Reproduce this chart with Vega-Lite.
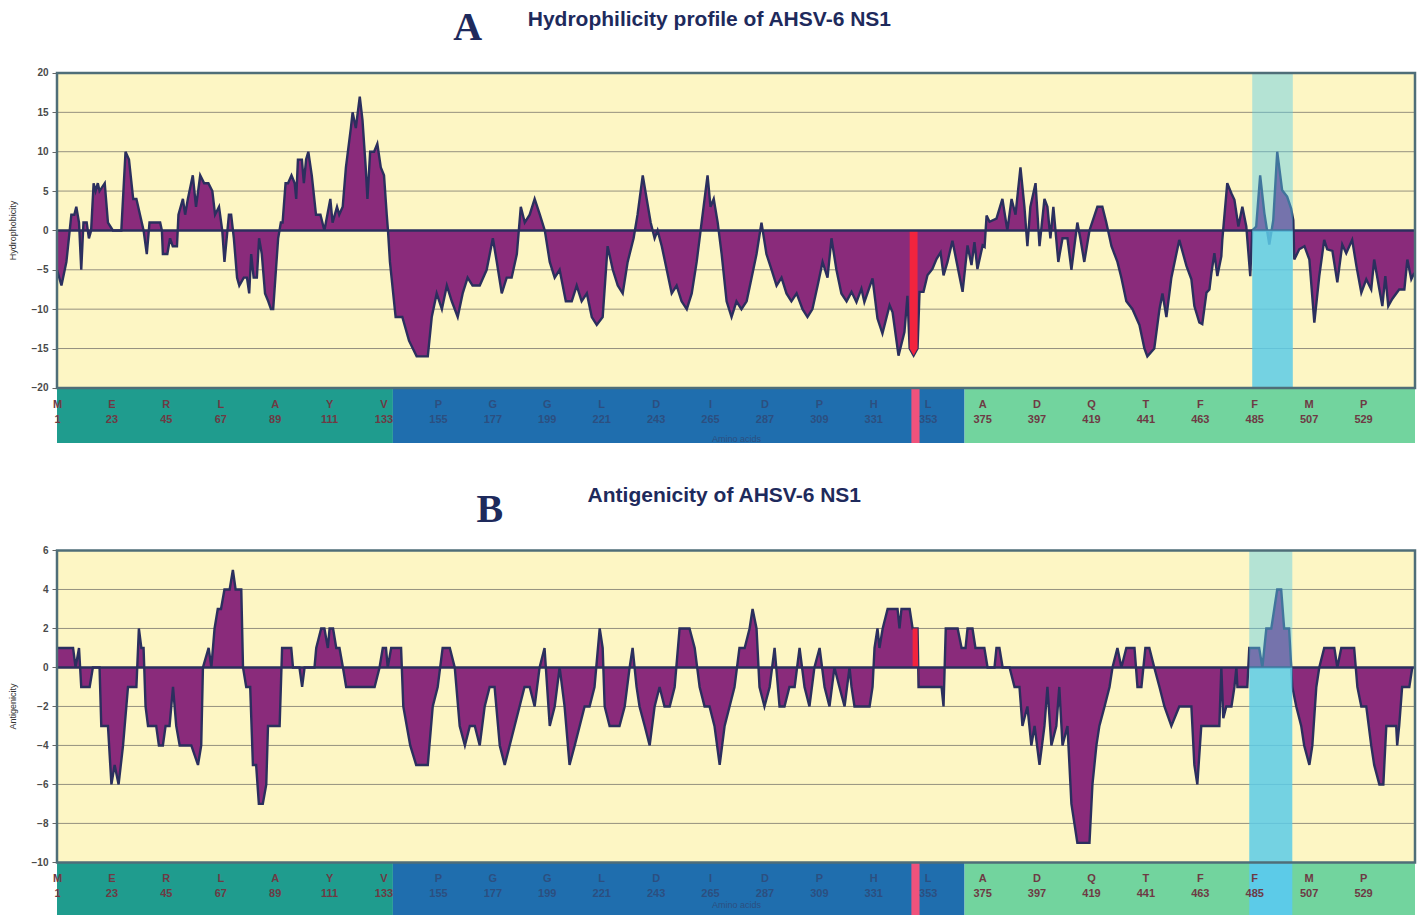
{
"$schema": "https://vega.github.io/schema/vega-lite/v6.json",
"padding": {"left": 8, "top": 0, "right": 0, "bottom": 0},
"background": "white",
"config": {
 "view": {"stroke": null},
 "axisX": {"domain": false, "ticks": false, "grid": false, "labelOverlap": false, "labelSeparation": -40, "labelFlush": false, "labelBound": false, "orient": "bottom",
   "labelFont": "Liberation Sans", "labelFontSize": 11, "labelFontWeight": "bold", "labelLineHeight": 15, "labelBaseline": "top", "labelPadding": 10,
   "titleFont": "Liberation Sans", "titleFontSize": 9, "titleFontWeight": "normal", "titleColor": "#2c4f80", "titlePadding": 10},
 "axisY": {"domain": false, "grid": false, "tickSize": 5, "tickColor": "#666666",
   "labelFont": "Liberation Sans", "labelFontSize": 10, "labelFontWeight": "bold", "labelColor": "#4a4a4a", "labelPadding": 4,
   "titleFont": "Liberation Sans", "titleFontSize": 9, "titleFontWeight": "normal", "titleColor": "#333333", "titleX": -45, "titleBaseline": "middle"}
},
"spacing": 10,
"datasets": {
"hydro": [
{"pos":1,"v":-5},{"pos":2.8,"v":-7},{"pos":4.8,"v":-4},{"pos":6.8,"v":2},{"pos":8,"v":2},{"pos":8.8,"v":3},{"pos":9.9,"v":1},{"pos":10.8,"v":-5},{"pos":11.7,"v":1},{"pos":13,"v":1},{"pos":13.9,"v":-1},{"pos":14.8,"v":0},{"pos":15.8,"v":6},{"pos":16.6,"v":5},{"pos":17.5,"v":6},{"pos":18.2,"v":5},{"pos":20.3,"v":6},{"pos":21.6,"v":1},{"pos":23.6,"v":0},{"pos":27,"v":0},{"pos":28.7,"v":10},{"pos":30.1,"v":9},{"pos":31.8,"v":4},{"pos":33.1,"v":4},{"pos":36,"v":0},{"pos":37.3,"v":-3},{"pos":38.4,"v":1},{"pos":42.7,"v":1},{"pos":43.4,"v":0},{"pos":43.8,"v":-3},{"pos":45.6,"v":-3},{"pos":46.7,"v":-1},{"pos":47.8,"v":-2},{"pos":49.5,"v":-2},{"pos":50.1,"v":2},{"pos":51.9,"v":4},{"pos":52.8,"v":2},{"pos":53.9,"v":4},{"pos":55.9,"v":7},{"pos":57.2,"v":3},{"pos":58.9,"v":7},{"pos":60.5,"v":6},{"pos":62.2,"v":6},{"pos":63.8,"v":5},{"pos":64.9,"v":2},{"pos":66.5,"v":3},{"pos":67.8,"v":0},{"pos":68.7,"v":-4},{"pos":70.5,"v":2},{"pos":71.4,"v":2},{"pos":72.5,"v":-1},{"pos":73.8,"v":-6},{"pos":74.7,"v":-7},{"pos":76.5,"v":-6},{"pos":77.8,"v":-6},{"pos":78.7,"v":-8},{"pos":79.5,"v":-3},{"pos":80.5,"v":-6},{"pos":81.8,"v":-6},{"pos":82.7,"v":-1},{"pos":83.8,"v":-3},{"pos":85.1,"v":-8},{"pos":86.4,"v":-9},{"pos":87.5,"v":-10},{"pos":88.4,"v":-10},{"pos":90.4,"v":-1},{"pos":91.5,"v":1},{"pos":92.2,"v":1},{"pos":93.4,"v":6},{"pos":94.4,"v":6},{"pos":95.8,"v":7},{"pos":97.1,"v":6},{"pos":97.7,"v":4},{"pos":98.4,"v":9},{"pos":100,"v":9},{"pos":100.8,"v":6},{"pos":101.7,"v":9},{"pos":102.6,"v":10},{"pos":104,"v":7},{"pos":105.7,"v":2},{"pos":107.5,"v":2},{"pos":109.1,"v":0},{"pos":111.5,"v":4},{"pos":112.4,"v":1},{"pos":114.2,"v":3},{"pos":115.1,"v":2},{"pos":116.5,"v":3},{"pos":117.8,"v":8},{"pos":119.8,"v":13},{"pos":120.5,"v":15},{"pos":121.8,"v":13},{"pos":123.4,"v":17},{"pos":124.5,"v":14},{"pos":125.8,"v":8},{"pos":126.5,"v":4},{"pos":127.6,"v":10},{"pos":129.2,"v":10},{"pos":130.5,"v":11},{"pos":131.9,"v":8},{"pos":133.2,"v":7},{"pos":134.3,"v":2},{"pos":134.8,"v":0},{"pos":135.6,"v":-4},{"pos":137.9,"v":-11},{"pos":140.6,"v":-11},{"pos":143.3,"v":-14},{"pos":146.4,"v":-16},
{"pos":147.7,"v":-16},{"pos":150.9,"v":-16},{"pos":152.5,"v":-11},{"pos":154.5,"v":-8},{"pos":156.6,"v":-10},{"pos":158.6,"v":-7},{"pos":160.6,"v":-9},{"pos":163,"v":-11},{"pos":165,"v":-8},{"pos":167,"v":-6},{"pos":169,"v":-7},{"pos":171.9,"v":-7},{"pos":174.7,"v":-5},{"pos":177.2,"v":-1},{"pos":178.8,"v":-4},{"pos":180.8,"v":-8},{"pos":182.8,"v":-6},{"pos":184.8,"v":-6},{"pos":186.9,"v":-3},{"pos":188.5,"v":3},{"pos":190.1,"v":1},{"pos":192.1,"v":2},{"pos":194.1,"v":4},{"pos":196.2,"v":2},{"pos":198.2,"v":0},{"pos":200.2,"v":-4},{"pos":202.2,"v":-6},{"pos":204.2,"v":-5},{"pos":206.7,"v":-9},{"pos":209.1,"v":-9},{"pos":211.1,"v":-7},{"pos":213.1,"v":-9},{"pos":215.2,"v":-8},{"pos":217.2,"v":-11},{"pos":219.2,"v":-12},{"pos":221.6,"v":-11},{"pos":223.6,"v":-2},{"pos":225.7,"v":-5},{"pos":227.7,"v":-7},{"pos":229.7,"v":-8},{"pos":231.7,"v":-4},{"pos":234.1,"v":-1},{"pos":235.7,"v":2},{"pos":237.8,"v":7},{"pos":239.4,"v":4},{"pos":241,"v":1},{"pos":242.6,"v":-1},{"pos":243.8,"v":0},{"pos":245.5,"v":-2},{"pos":247.5,"v":-5},{"pos":249.5,"v":-8},{"pos":251.5,"v":-7},{"pos":253.5,"v":-9},{"pos":255.6,"v":-10},{"pos":257.6,"v":-8},{"pos":259.6,"v":-4},{"pos":261.2,"v":0},{"pos":262.8,"v":4},{"pos":264,"v":7},{"pos":265.2,"v":3},{"pos":266.5,"v":4},{"pos":268.1,"v":1},{"pos":269.7,"v":-3},{"pos":271.7,"v":-9},{"pos":273.7,"v":-11},{"pos":275.7,"v":-9},{"pos":277.7,"v":-10},{"pos":279.8,"v":-9},{"pos":281.8,"v":-6},{"pos":283.8,"v":-3},{"pos":285.8,"v":1},{"pos":287.8,"v":-3},{"pos":289.9,"v":-5},{"pos":291.9,"v":-7},{"pos":293.9,"v":-6},{"pos":295.9,"v":-8},{"pos":297.9,"v":-9},{"pos":300,"v":-8},{"pos":302.4,"v":-10},{"pos":304.4,"v":-11},{"pos":306.4,"v":-10},{"pos":308.5,"v":-7},{"pos":310.5,"v":-4},{"pos":312.5,"v":-6},{"pos":314.1,"v":-1},{"pos":316.1,"v":-5},{"pos":318.1,"v":-8},{"pos":320.2,"v":-9},
{"pos":322.2,"v":-7.8},{"pos":324.2,"v":-9.1},{"pos":326.2,"v":-7.4},{"pos":327.4,"v":-9.1},{"pos":330.7,"v":-6.1},{"pos":332.7,"v":-11.2},{"pos":334.7,"v":-13.1},{"pos":337.6,"v":-9.5},{"pos":338.8,"v":-10.4},{"pos":341.2,"v":-15.9},{"pos":343.6,"v":-12.9},{"pos":344.8,"v":-8.3},{"pos":345.7,"v":-15},{"pos":347.3,"v":-15.9},{"pos":348.9,"v":-15},{"pos":349.7,"v":-7.8},{"pos":351.3,"v":-7.8},{"pos":352.9,"v":-5.7},{"pos":354.9,"v":-4.9},{"pos":356.6,"v":-3.6},{"pos":358.2,"v":-2.8},{"pos":359.4,"v":-5.7},{"pos":361,"v":-4},{"pos":363,"v":-1.3},{"pos":364.7,"v":-4},{"pos":367.1,"v":-7.8},{"pos":369.1,"v":-1.9},{"pos":370.7,"v":-4.4},{"pos":371.9,"v":-1.5},{"pos":373.1,"v":-4.9},{"pos":375.2,"v":-1.9},{"pos":376,"v":-2.1},{"pos":376.8,"v":1.9},{"pos":378,"v":1.1},{"pos":380.8,"v":1.5},
{"pos":383.2,"v":4},{"pos":385.2,"v":0},{"pos":386.9,"v":4},{"pos":388.5,"v":2},{"pos":390.5,"v":8},{"pos":392.1,"v":3},{"pos":393.3,"v":-2},{"pos":394.5,"v":3},{"pos":396.6,"v":6},{"pos":398.2,"v":-2},{"pos":400.2,"v":4},{"pos":401.4,"v":3},{"pos":402.6,"v":-1},{"pos":403.8,"v":3},{"pos":405.8,"v":-4},{"pos":407.5,"v":-1},{"pos":409.5,"v":-1},{"pos":411.1,"v":-5},{"pos":413.5,"v":1},{"pos":414.7,"v":-1},{"pos":416.3,"v":-4},{"pos":418.4,"v":0},{"pos":421.6,"v":3},{"pos":423.6,"v":3},{"pos":425.2,"v":1},{"pos":427.3,"v":-2},{"pos":429.7,"v":-4},{"pos":431.3,"v":-6},{"pos":433.3,"v":-9},{"pos":435.8,"v":-10},{"pos":438.6,"v":-12},{"pos":440.6,"v":-15},{"pos":441.8,"v":-16},{"pos":444.6,"v":-15},{"pos":446.7,"v":-10},{"pos":447.9,"v":-8},{"pos":449.5,"v":-11},{"pos":451.5,"v":-6},
{"pos":454.7,"v":-1.2},{"pos":457.6,"v":-4.5},{"pos":459.6,"v":-6.2},{"pos":460.8,"v":-9.6},{"pos":462.8,"v":-11.7},{"pos":464,"v":-11.9},{"pos":465.7,"v":-7.9},{"pos":466.9,"v":-7.5},{"pos":467.7,"v":-5.4},{"pos":468.9,"v":-2.9},{"pos":470.1,"v":-5.8},{"pos":471.7,"v":-3.3},{"pos":472.1,"v":-1.2},{"pos":474.1,"v":6},{"pos":475.8,"v":4.7},{"pos":477,"v":3.9},{"pos":478.6,"v":0.5},{"pos":480.2,"v":3},{"pos":481.8,"v":0.5},{"pos":483.4,"v":-5.8},{"pos":484.2,"v":0},{"pos":485.8,"v":0.5},{"pos":487.4,"v":7},{"pos":489.1,"v":2.2},{"pos":491.1,"v":-1.8},{"pos":492.7,"v":1.3},{"pos":494.3,"v":10},{"pos":496.3,"v":5.1},{"pos":498.3,"v":4.3},{"pos":499.9,"v":2.8},{"pos":500.8,"v":1.3},{"pos":501.2,"v":-3.7},{"pos":503.2,"v":-2.4},{"pos":505.3,"v":-2},{"pos":507.3,"v":-3.7},{"pos":509.3,"v":-11.7},{"pos":511.3,"v":-5.8},{"pos":513.3,"v":-1.2},{"pos":514.5,"v":-2.4},{"pos":516.6,"v":-2.6},{"pos":518.6,"v":-6.6},{"pos":520.6,"v":-1.8},{"pos":522.2,"v":-2.9},{"pos":524.6,"v":-1.2},{"pos":526.3,"v":-4.5},{"pos":528.3,"v":-7.9},{"pos":530.3,"v":-6.2},{"pos":532.3,"v":-7.5},{"pos":533.5,"v":-3.7},{"pos":535.6,"v":-7.5},{"pos":536.8,"v":-9.6},{"pos":538,"v":-5.8},{"pos":539.2,"v":-9.6},{"pos":540.8,"v":-8.7},{"pos":543.6,"v":-7.5},{"pos":545.7,"v":-7.5},{"pos":546.9,"v":-3.7},{"pos":548.5,"v":-6.2},{"pos":549.7,"v":-5.4}
],
"anti": [
{"pos":1,"v":1},{"pos":7.5,"v":1},{"pos":8.5,"v":0},{"pos":9.9,"v":1},{"pos":10.8,"v":-1},{"pos":14.2,"v":-1},{"pos":15.5,"v":0},{"pos":18.2,"v":0},{"pos":18.9,"v":-3},{"pos":21.6,"v":-3},{"pos":23,"v":-6},{"pos":24.3,"v":-5},{"pos":25.9,"v":-6},{"pos":27.7,"v":-4},{"pos":29.7,"v":-1},{"pos":33.1,"v":-1},{"pos":34.1,"v":2},{"pos":35.1,"v":1},{"pos":36,"v":1},{"pos":36.8,"v":-2},{"pos":37.8,"v":-3},{"pos":41.1,"v":-3},{"pos":42.2,"v":-4},{"pos":43.8,"v":-4},{"pos":44.9,"v":-3},{"pos":46.5,"v":-3},{"pos":47.9,"v":-1},{"pos":49.2,"v":-3},{"pos":50.6,"v":-4},{"pos":52.2,"v":-4},{"pos":55.3,"v":-4},{"pos":58,"v":-5},{"pos":59.3,"v":-4},{"pos":60,"v":0},{"pos":62.3,"v":1},{"pos":63.4,"v":0},{"pos":64.7,"v":2},{"pos":66,"v":3},{"pos":67.3,"v":3},{"pos":68.7,"v":4},{"pos":70.8,"v":4},{"pos":72.1,"v":5},{"pos":73.2,"v":4},{"pos":75.5,"v":4},{"pos":76.2,"v":0},{"pos":77.5,"v":-1},{"pos":79.1,"v":-1},{"pos":80.2,"v":-5},{"pos":81.5,"v":-5},{"pos":82.6,"v":-7},{"pos":84.2,"v":-7},{"pos":85.6,"v":-6},{"pos":86.3,"v":-3},{"pos":91,"v":-3},{"pos":92,"v":1},{"pos":95.7,"v":1},{"pos":96.4,"v":0},{"pos":99,"v":0},{"pos":100.1,"v":-1},{"pos":101.1,"v":0},{"pos":105.1,"v":0},{"pos":105.8,"v":1},{"pos":107.8,"v":2},{"pos":109.1,"v":2},{"pos":110.5,"v":1},{"pos":111.2,"v":2},{"pos":112.6,"v":2},{"pos":113.9,"v":1},{"pos":115.2,"v":1},{"pos":116.6,"v":0},{"pos":117.9,"v":-1},{"pos":129.4,"v":-1},{"pos":131.4,"v":0},{"pos":132.7,"v":1},{"pos":134,"v":1},{"pos":134.7,"v":0},{"pos":136.1,"v":1},{"pos":140.1,"v":1},{"pos":141,"v":-2},{"pos":142.4,"v":-3},{"pos":143.8,"v":-4},{"pos":146.2,"v":-5},
{"pos":147.7,"v":-5},{"pos":150.9,"v":-5},{"pos":152.9,"v":-2},{"pos":154.9,"v":-1},{"pos":156.9,"v":1},{"pos":159.8,"v":1},{"pos":161.8,"v":0},{"pos":163.8,"v":-3},{"pos":165.9,"v":-4},{"pos":167.9,"v":-3},{"pos":169.9,"v":-3},{"pos":171.9,"v":-4},{"pos":173.9,"v":-2},{"pos":175.9,"v":-1},{"pos":177.9,"v":-1},{"pos":180,"v":-4},{"pos":182,"v":-5},{"pos":184,"v":-4},{"pos":186,"v":-3},{"pos":188,"v":-2},{"pos":190,"v":-1},{"pos":192.1,"v":-1},{"pos":194.1,"v":-2},{"pos":196.1,"v":0},{"pos":198.1,"v":1},{"pos":200.2,"v":-3},{"pos":202.2,"v":-2},{"pos":204.2,"v":0},{"pos":206.2,"v":-2},{"pos":208.2,"v":-5},{"pos":210.3,"v":-4},{"pos":212.3,"v":-3},{"pos":214.3,"v":-2},{"pos":216.3,"v":-2},{"pos":218.3,"v":-1},{"pos":220.4,"v":2},{"pos":221.6,"v":1},{"pos":222.4,"v":-2},{"pos":224.4,"v":-3},{"pos":228.4,"v":-3},{"pos":230.5,"v":-2},{"pos":232.5,"v":0},{"pos":233.7,"v":1},{"pos":235.3,"v":-1},{"pos":236.5,"v":-2},{"pos":238.6,"v":-3},{"pos":240.6,"v":-4},{"pos":242.6,"v":-2},{"pos":244.6,"v":-1},{"pos":246.6,"v":-2},{"pos":248.7,"v":-2},{"pos":250.7,"v":-1},{"pos":252.7,"v":2},{"pos":256.7,"v":2},{"pos":258.8,"v":1},{"pos":260.8,"v":-1},{"pos":262.8,"v":-2},{"pos":264.8,"v":-2},{"pos":266.8,"v":-3},{"pos":268.9,"v":-5},{"pos":270.9,"v":-3},{"pos":272.9,"v":-2},{"pos":274.9,"v":-1},{"pos":276.9,"v":1},{"pos":279,"v":1},{"pos":281,"v":2},{"pos":282.2,"v":3},{"pos":283.8,"v":2},{"pos":285,"v":-1},{"pos":287,"v":-2},{"pos":289.1,"v":-1},{"pos":291.1,"v":1},{"pos":293.1,"v":-2},{"pos":295.1,"v":-2},{"pos":297.1,"v":-1},{"pos":299.2,"v":-1},{"pos":301.2,"v":1},{"pos":303.2,"v":-1},{"pos":305.2,"v":-2},{"pos":307.2,"v":0},{"pos":309.3,"v":1},{"pos":311.3,"v":-1},{"pos":313.3,"v":-2},{"pos":315.3,"v":0},{"pos":317.3,"v":-1},{"pos":319.4,"v":-2},{"pos":321.4,"v":0},
{"pos":322.2,"v":-1},{"pos":323.4,"v":-2},{"pos":329.5,"v":-2},{"pos":330.7,"v":-1},{"pos":331.5,"v":1},{"pos":332.7,"v":2},{"pos":333.5,"v":1},{"pos":334.8,"v":2},{"pos":336.8,"v":3},{"pos":340.8,"v":3},{"pos":341.6,"v":2},{"pos":342.4,"v":3},{"pos":345.7,"v":3},{"pos":346.9,"v":2},{"pos":348.9,"v":2},{"pos":349.3,"v":-1},{"pos":351.3,"v":-1},{"pos":358.6,"v":-1},{"pos":359.4,"v":-2},{"pos":360.3,"v":2},{"pos":365.1,"v":2},{"pos":366.7,"v":1},{"pos":368.3,"v":1},{"pos":369.1,"v":2},{"pos":371.1,"v":2},{"pos":372.3,"v":1},{"pos":375.9,"v":1},{"pos":377.2,"v":0},{"pos":380,"v":0},{"pos":380.8,"v":1},
{"pos":382,"v":1},{"pos":383.3,"v":0},{"pos":386.1,"v":0},{"pos":388.1,"v":-1},{"pos":390.1,"v":-1},{"pos":391.3,"v":-3},{"pos":393.3,"v":-2},{"pos":394.9,"v":-4},{"pos":396.2,"v":-3},{"pos":398.2,"v":-5},{"pos":400.2,"v":-3},{"pos":401.4,"v":-1},{"pos":403,"v":-4},{"pos":405,"v":-3},{"pos":406.2,"v":-1},{"pos":407.5,"v":-4},{"pos":409.5,"v":-3},{"pos":411.1,"v":-7},{"pos":412.3,"v":-8},{"pos":413.5,"v":-9},{"pos":418.4,"v":-9},{"pos":419.6,"v":-6},{"pos":421.2,"v":-4},{"pos":422.4,"v":-3},{"pos":424.5,"v":-2},{"pos":426.5,"v":-1},{"pos":427.7,"v":0},{"pos":429.7,"v":1},{"pos":431.3,"v":0},{"pos":433.3,"v":1},{"pos":436.6,"v":1},{"pos":437.8,"v":-1},{"pos":439.4,"v":-1},{"pos":441,"v":1},{"pos":442.6,"v":1},{"pos":444.6,"v":0},{"pos":446.7,"v":-1},{"pos":448.7,"v":-2},{"pos":451.5,"v":-3},
{"pos":454.7,"v":-2},{"pos":459.6,"v":-2},{"pos":460.8,"v":-5},{"pos":462,"v":-6},{"pos":463.6,"v":-3},{"pos":470.9,"v":-3},{"pos":471.7,"v":0},{"pos":472.5,"v":-2.6},{"pos":473.7,"v":-2},{"pos":475.8,"v":-2},{"pos":477,"v":-1},{"pos":477.8,"v":0},{"pos":478.2,"v":-1},{"pos":482.2,"v":-1},{"pos":483,"v":1},{"pos":487,"v":1},{"pos":488.3,"v":0},{"pos":489.9,"v":2},{"pos":491.9,"v":2},{"pos":493.1,"v":3},{"pos":494.3,"v":4},{"pos":495.9,"v":4},{"pos":497.1,"v":2},{"pos":499.1,"v":2},{"pos":500.4,"v":-1},{"pos":502,"v":-2},{"pos":504,"v":-3},{"pos":505.2,"v":-4},{"pos":507.3,"v":-5},{"pos":508.5,"v":-4},{"pos":510.1,"v":-1},{"pos":511.3,"v":0},{"pos":513.3,"v":1},{"pos":517.4,"v":1},{"pos":518.6,"v":0},{"pos":520.2,"v":1},{"pos":525.4,"v":1},{"pos":526.7,"v":-1},{"pos":528.3,"v":-2},{"pos":530.3,"v":-2},{"pos":532.3,"v":-4},{"pos":533.5,"v":-5},{"pos":535.6,"v":-6},{"pos":537.2,"v":-6},{"pos":538.4,"v":-3},{"pos":542.4,"v":-3},{"pos":542.8,"v":-4},{"pos":543.6,"v":-3},{"pos":544.8,"v":-1},{"pos":547.7,"v":-1},{"pos":548.9,"v":0}
],
"strip": [
{"start":1,"end":136.8,"seg":"N-terminal"},{"start":136.8,"end":367.9,"seg":"central"},{"start":367.9,"end":550,"seg":"C-terminal"},{"start":346.4,"end":349.7,"seg":"marker"}
]
},
"vconcat": [
{
"width": 1358, "height": 443,
"layer": [
{"data": {"values": [{}]}, "mark": {"type": "rect", "fill": "#fdf6c4"},
 "encoding": {"x": {"datum": 1, "type": "quantitative", "scale": {"domain": [1, 550], "nice": false, "zero": false}}, "x2": {"datum": 550}, "y": {"datum": -20, "type": "quantitative", "scale": {"domain": [-27, 29.27], "nice": false, "zero": false}}, "y2": {"datum": 20}}},
{"data": {"values": [{"g":-15},{"g":-10},{"g":-5},{"g":5},{"g":10},{"g":15}]}, "mark": {"type": "rule", "color": "#95917f", "strokeWidth": 1},
 "encoding": {"x": {"datum": 1, "type": "quantitative"}, "x2": {"datum": 550}, "y": {"field": "g", "type": "quantitative"}}},
{"data": {"name": "hydro"}, "mark": {"type": "area", "color": "#8a2b7b"},
 "encoding": {"x": {"field": "pos", "type": "quantitative"}, "y": {"field": "v", "type": "quantitative"}, "y2": {"datum": 0}}},
{"data": {"name": "hydro"}, "mark": {"type": "line", "color": "#2b2f5e", "strokeWidth": 2.4},
 "encoding": {"x": {"field": "pos", "type": "quantitative"}, "y": {"field": "v", "type": "quantitative"}}},
{"data": {"name": "hydro"}, "transform": [{"filter": "datum.pos >= 345.5 && datum.pos <= 349"}], "mark": {"type": "area", "color": "#f2243e"},
 "encoding": {"x": {"field": "pos", "type": "quantitative"}, "y": {"field": "v", "type": "quantitative"}, "y2": {"datum": 0}}},
{"data": {"values": [{}]}, "mark": {"type": "rule", "color": "#2b2f5e", "strokeWidth": 2.5},
 "encoding": {"x": {"datum": 1, "type": "quantitative"}, "x2": {"datum": 550}, "y": {"datum": 0, "type": "quantitative"}}},
{"data": {"values": [{}]}, "mark": {"type": "rect", "fill": "#5ccbe8", "opacity": 0.45},
 "encoding": {"x": {"datum": 484.2, "type": "quantitative"}, "x2": {"datum": 500.6}, "y": {"datum": 0, "type": "quantitative"}, "y2": {"datum": 20}}},
{"data": {"values": [{}]}, "mark": {"type": "rect", "fill": "#5ccbe8", "opacity": 0.85},
 "encoding": {"x": {"datum": 484.2, "type": "quantitative"}, "x2": {"datum": 500.6}, "y": {"datum": -20, "type": "quantitative"}, "y2": {"datum": 0}}},
{"data": {"name": "strip"}, "mark": {"type": "rect"},
 "encoding": {"x": {"field": "start", "type": "quantitative"}, "x2": {"field": "end"}, "y": {"datum": -27, "type": "quantitative"}, "y2": {"datum": -20},
  "color": {"field": "seg", "type": "nominal", "legend": null, "scale": {"domain": ["N-terminal","central","C-terminal","marker","epitope"], "range": ["#1f9c8e","#1f6eae","#72d49e","#f0527c","#5ccbe8"]}}}},
{"data": {"values": [{}]}, "mark": {"type": "rect", "fill": null, "stroke": "#4f6e78", "strokeWidth": 2.5},
 "encoding": {"x": {"datum": 1, "type": "quantitative"}, "x2": {"datum": 550}, "y": {"datum": -20, "type": "quantitative"}, "y2": {"datum": 20}}},
{"data": {"values": [{"t": "A"}]}, "mark": {"type": "text", "font": "Liberation Serif", "fontSize": 40, "fontWeight": "bold", "color": "#1e2a5c", "baseline": "middle", "align": "center"},
 "encoding": {"x": {"datum": 167, "type": "quantitative"}, "y": {"datum": 25.7, "type": "quantitative"}, "text": {"field": "t"}}},
{"data": {"values": [{"t": "Hydrophilicity profile of AHSV-6 NS1"}]}, "mark": {"type": "text", "font": "Liberation Sans", "fontSize": 21, "fontWeight": "bold", "color": "#1e2a5c", "baseline": "middle", "align": "left"},
 "encoding": {"x": {"datum": 191.3, "type": "quantitative"}, "y": {"datum": 26.7, "type": "quantitative"}, "text": {"field": "t"}}},
{"data": {"name": "hydro"}, "mark": {"type": "point", "opacity": 0},
 "encoding": {
  "x": {"field": "pos", "type": "quantitative", "axis": {"title": "Amino acids", "offset": -55, "zindex": 5, "labelOverlap": false, "labelSeparation": -40, "labelFlush": false, "labelBound": false,
    "values": [1,12,23,34,45,56,67,78,89,100,111,122,133,144,155,166,177,188,199,210,221,232,243,254,265,276,287,298,309,320,331,342,353,364,375,386,397,408,419,430,441,452,463,474,485,496,507,518,529,540],
    "labelExpr": "[substring('MGEKRTLRAMYGVFPGGQGNLNDLIVDDPHHLLTALDKQTTTFGFTMSPE', (datum.value-1)/11, (datum.value-1)/11+1), datum.label]",
    "labelColor": {"condition": {"test": "datum.value > 137 && datum.value < 368", "value": "#2c4f80"}, "value": "#6e3a44"}}},
  "y": {"field": "v", "type": "quantitative", "axis": {"values": [-20,-15,-10,-5,0,5,10,15,20], "title": "Hydrophobicity", "titleY": 230}}}}
]
},
{
"width": 1358, "height": 464,
"layer": [
{"data": {"values": [{}]}, "mark": {"type": "rect", "fill": "#fdf6c4"},
 "encoding": {"x": {"datum": 1, "type": "quantitative", "scale": {"domain": [1, 550], "nice": false, "zero": false}}, "x2": {"datum": 550}, "y": {"datum": -10, "type": "quantitative", "scale": {"domain": [-12.8, 11], "nice": false, "zero": false}}, "y2": {"datum": 6}}},
{"data": {"values": [{"g":-8},{"g":-6},{"g":-4},{"g":-2},{"g":2},{"g":4}]}, "mark": {"type": "rule", "color": "#95917f", "strokeWidth": 1},
 "encoding": {"x": {"datum": 1, "type": "quantitative"}, "x2": {"datum": 550}, "y": {"field": "g", "type": "quantitative"}}},
{"data": {"name": "anti"}, "mark": {"type": "area", "color": "#8a2b7b"},
 "encoding": {"x": {"field": "pos", "type": "quantitative"}, "y": {"field": "v", "type": "quantitative"}, "y2": {"datum": 0}}},
{"data": {"name": "anti"}, "mark": {"type": "line", "color": "#2b2f5e", "strokeWidth": 2.4},
 "encoding": {"x": {"field": "pos", "type": "quantitative"}, "y": {"field": "v", "type": "quantitative"}}},
{"data": {"name": "anti"}, "transform": [{"filter": "datum.pos >= 346.5 && datum.pos <= 349.5"}], "mark": {"type": "area", "color": "#f2243e"},
 "encoding": {"x": {"field": "pos", "type": "quantitative"}, "y": {"field": "v", "type": "quantitative"}, "y2": {"datum": 0}}},
{"data": {"values": [{}]}, "mark": {"type": "rule", "color": "#2b2f5e", "strokeWidth": 2.5},
 "encoding": {"x": {"datum": 1, "type": "quantitative"}, "x2": {"datum": 550}, "y": {"datum": 0, "type": "quantitative"}}},
{"data": {"values": [{}]}, "mark": {"type": "rect", "fill": "#5ccbe8", "opacity": 0.45},
 "encoding": {"x": {"datum": 483, "type": "quantitative"}, "x2": {"datum": 500.4}, "y": {"datum": 0, "type": "quantitative"}, "y2": {"datum": 6}}},
{"data": {"values": [{}]}, "mark": {"type": "rect", "fill": "#5ccbe8", "opacity": 0.85},
 "encoding": {"x": {"datum": 483, "type": "quantitative"}, "x2": {"datum": 500.4}, "y": {"datum": -10, "type": "quantitative"}, "y2": {"datum": 0}}},
{"data": {"name": "strip"}, "mark": {"type": "rect"},
 "encoding": {"x": {"field": "start", "type": "quantitative"}, "x2": {"field": "end"}, "y": {"datum": -12.8, "type": "quantitative"}, "y2": {"datum": -10},
  "color": {"field": "seg", "type": "nominal", "legend": null, "scale": {"domain": ["N-terminal","central","C-terminal","marker","epitope"], "range": ["#1f9c8e","#1f6eae","#72d49e","#f0527c","#5ccbe8"]}}}},
{"data": {"values": [{"start": 483, "end": 500.4, "seg": "epitope"}]}, "mark": {"type": "rect"},
 "encoding": {"x": {"field": "start", "type": "quantitative"}, "x2": {"field": "end"}, "y": {"datum": -12.8, "type": "quantitative"}, "y2": {"datum": -10},
  "color": {"field": "seg", "type": "nominal", "legend": null, "scale": {"domain": ["N-terminal","central","C-terminal","marker","epitope"], "range": ["#1f9c8e","#1f6eae","#72d49e","#f0527c","#5ccbe8"]}}}},
{"data": {"values": [{}]}, "mark": {"type": "rect", "fill": null, "stroke": "#4f6e78", "strokeWidth": 2.5},
 "encoding": {"x": {"datum": 1, "type": "quantitative"}, "x2": {"datum": 550}, "y": {"datum": -10, "type": "quantitative"}, "y2": {"datum": 6}}},
{"data": {"values": [{"t": "B"}]}, "mark": {"type": "text", "font": "Liberation Serif", "fontSize": 40, "fontWeight": "bold", "color": "#1e2a5c", "baseline": "middle", "align": "center"},
 "encoding": {"x": {"datum": 176, "type": "quantitative"}, "y": {"datum": 8.1, "type": "quantitative"}, "text": {"field": "t"}}},
{"data": {"values": [{"t": "Antigenicity of AHSV-6 NS1"}]}, "mark": {"type": "text", "font": "Liberation Sans", "fontSize": 21, "fontWeight": "bold", "color": "#1e2a5c", "baseline": "middle", "align": "left"},
 "encoding": {"x": {"datum": 215.5, "type": "quantitative"}, "y": {"datum": 8.77, "type": "quantitative"}, "text": {"field": "t"}}},
{"data": {"name": "anti"}, "mark": {"type": "point", "opacity": 0},
 "encoding": {
  "x": {"field": "pos", "type": "quantitative", "axis": {"title": "Amino acids", "offset": -54.6, "zindex": 5, "titlePadding": 2, "labelOverlap": false, "labelSeparation": -40, "labelFlush": false, "labelBound": false,
    "values": [1,12,23,34,45,56,67,78,89,100,111,122,133,144,155,166,177,188,199,210,221,232,243,254,265,276,287,298,309,320,331,342,353,364,375,386,397,408,419,430,441,452,463,474,485,496,507,518,529,540],
    "labelExpr": "[substring('MGEKRTLRAMYGVFPGGQGNLNDLIVDDPHHLLTALDKQTTTFGFTMSPE', (datum.value-1)/11, (datum.value-1)/11+1), datum.label]",
    "labelColor": {"condition": {"test": "datum.value > 137 && datum.value < 368", "value": "#2c4f80"}, "value": "#6e3a44"}}},
  "y": {"field": "v", "type": "quantitative", "axis": {"values": [-10,-8,-6,-4,-2,0,2,4,6], "title": "Antigenicity", "titleY": 253}}}}
]
}
]
}
